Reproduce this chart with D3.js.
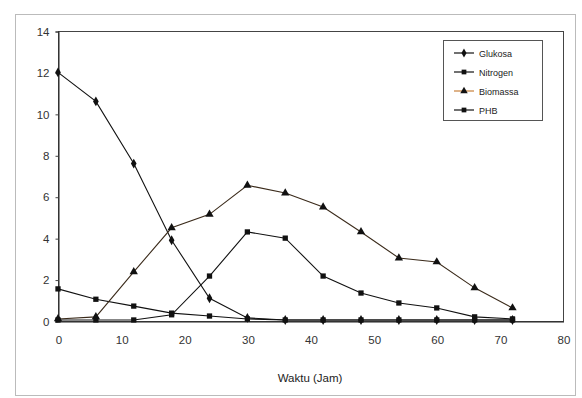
<!DOCTYPE html>
<html><head><meta charset="utf-8">
<script src="https://cdn.jsdelivr.net/npm/d3@7"></script>
<style>body{margin:0;background:#fff}svg{display:block}</style>
</head><body><svg id="c" width="582" height="398"></svg>
<script>
const hours = [0, 6, 12, 18, 24, 30, 36, 42, 48, 54, 60, 66, 72];
const glukosa  = [12.0, 10.6, 7.6, 3.9, 1.1, 0.15, 0.05, 0.05, 0.05, 0.05, 0.05, 0.05, 0.05];
const nitrogen = [1.55, 1.05, 0.72, 0.38, 0.24, 0.1, 0.05, 0.05, 0.05, 0.05, 0.05, 0.05, 0.05];
const biomassa = [0.1, 0.2, 2.37, 4.5, 5.15, 6.55, 6.18, 5.5, 4.3, 3.04, 2.85, 1.6, 0.63];
const phb      = [0.05, 0.05, 0.05, 0.3, 2.17, 4.3, 4.0, 2.17, 1.35, 0.87, 0.63, 0.2, 0.1];
const seriesNames = ["Glukosa", "Nitrogen", "Biomassa", "PHB"];
const seriesMarkers = ["diamond", "square", "triangle", "square"];
const xTicks = [0, 10, 20, 30, 40, 50, 60, 70, 80];
const yTicks = [0, 2, 4, 6, 8, 10, 12, 14];
const xTitle = "Waktu (Jam)";

const svg = d3.select("#c");
const L = 58, R = 563, T = 31, B = 321;
const x = d3.scaleLinear().domain([0, 80]).range([L, R]);
const y = d3.scaleLinear().domain([0, 14]).range([B, T]);
const values = [glukosa, nitrogen, biomassa, phb];
const colors = ["#111", "#111", "#3a2a1a", "#111"];

// outer frame
svg.append("rect").attr("x", 15.5).attr("y", 14.5).attr("width", 560).attr("height", 381)
  .attr("fill", "none").attr("stroke", "#bbb").attr("stroke-width", 1);

// plot box
svg.append("rect").attr("x", L + 0.5).attr("y", T + 0.5).attr("width", R - L).attr("height", B - T)
  .attr("fill", "none").attr("stroke", "#444").attr("stroke-width", 1);

const font = "Arial, 'Liberation Sans', sans-serif";
const ax = d3.axisBottom(x).tickValues(xTicks).tickSize(0).tickPadding(14).tickFormat(d3.format("d"));
const gx = svg.append("g").attr("transform", `translate(0.5,${B + 0.5})`).call(ax);
gx.select(".domain").attr("stroke", "#222");
gx.selectAll("text").attr("font-family", font).attr("font-size", 11.5).attr("fill", "#333");

const ay = d3.axisLeft(y).tickValues(yTicks).tickSize(3).tickPadding(6).tickFormat(d3.format("d"));
const gy = svg.append("g").attr("transform", `translate(${L + 0.5},0.5)`).call(ay);
gy.select(".domain").attr("stroke", "#222");
gy.selectAll("line").attr("stroke", "#444");
gy.selectAll("text").attr("font-family", font).attr("font-size", 11.5).attr("fill", "#333");

svg.append("text").attr("x", 310).attr("y", 382).attr("text-anchor", "middle")
  .attr("font-family", font).attr("font-size", 11.5).attr("fill", "#222").text(xTitle);

function marker(g, type, cx, cy, s, col) {
  let sym = type === "diamond" ? d3.symbolDiamond : type === "triangle" ? d3.symbolTriangle : d3.symbolSquare;
  let size = type === "diamond" ? 28 : type === "triangle" ? 30 : 28;
  g.append("path").attr("d", d3.symbol().type(sym).size(size * s)())
    .attr("transform", `translate(${cx},${cy})`).attr("fill", col);
}

const line = d3.line().x(d => x(d[0])).y(d => y(d[1]));
values.forEach((vals, i) => {
  const pts = hours.map((h, j) => [h, vals[j]]);
  const g = svg.append("g");
  g.append("path").attr("d", line(pts)).attr("fill", "none").attr("stroke", colors[i]).attr("stroke-width", 1.1);
  pts.forEach(p => marker(g, seriesMarkers[i], x(p[0]), y(p[1]), 1, "#111"));
});

// legend
const lg = svg.append("g");
lg.append("rect").attr("x", 443.5).attr("y", 40.5).attr("width", 99).attr("height", 80)
  .attr("fill", "#fff").attr("stroke", "#555").attr("stroke-width", 1);
seriesNames.forEach((n, i) => {
  const yy = 53 + i * 19;
  lg.append("line").attr("x1", 454).attr("x2", 474).attr("y1", yy).attr("y2", yy)
    .attr("stroke", i === 2 ? "#c8803a" : "#111").attr("stroke-width", 1.2);
  marker(lg, seriesMarkers[i], 464, yy, 0.8, "#111");
  lg.append("text").attr("x", 479).attr("y", yy + 3.5).attr("font-family", font)
    .attr("font-size", 9).attr("fill", "#222").text(n);
});
</script></body></html>
